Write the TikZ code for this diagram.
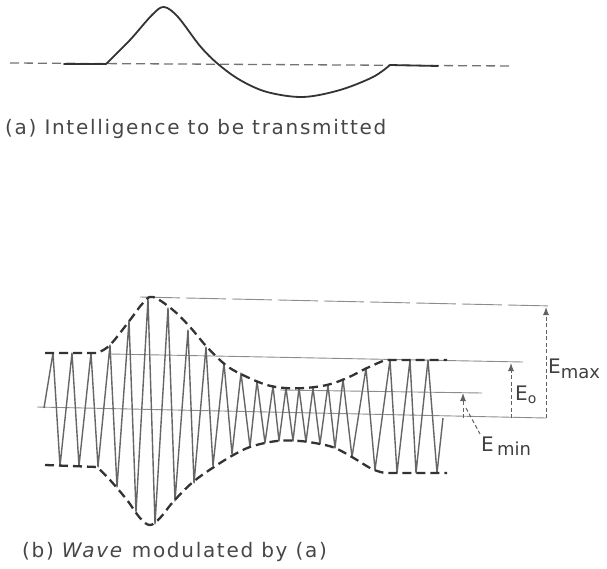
\documentclass[tikz,border=0pt]{standalone}
\usepackage{fontspec}
\setmainfont{DejaVu Sans}
\newfontfamily\capfont[LetterSpace=8.5]{DejaVu Sans}
\usetikzlibrary{arrows.meta}
\begin{document}
\begin{tikzpicture}[x=1pt,y=-1pt,
  sig/.style={line width=1.8pt, draw=black!80, line cap=round, line join=round},
  baseline dash/.style={line width=1.3pt, draw=black!55, dash pattern=on 9pt off 5pt},
  carrier/.style={line width=1.4pt, draw=black!60, line join=round},
  envelope/.style={line width=2.3pt, draw=black!80, dash pattern=on 9pt off 5pt},
  refline/.style={line width=0.9pt, draw=black!45},
  dimline/.style={line width=1pt, draw=black!62, dash pattern=on 4pt off 2.5pt},
  dimarrow/.style={dimline, -{Latex[length=8pt,width=6pt]}},
  lbl/.style={text=black!75, font=\fontsize{20}{22}\selectfont, inner sep=0pt},
  sublbl/.style={font=\fontsize{18}{20}\selectfont},
  caption/.style={text=black!72, font=\capfont\fontsize{20}{22}\selectfont, inner sep=0pt, anchor=base west}]
\useasboundingbox (0,0) rectangle (607,569);

% ---------- (a) ----------
\draw[baseline dash] (10,63) -- (512,66);
\draw[sig] (64,64) -- plot[smooth, tension=0.55] coordinates {(106,64) (130,40) (152,15) (164,7) (178,17) (200,46) (218,64) (240,80) (267,92) (303,97) (340,90) (373,77) (390,65)} -- (438,66);
\node[caption] (capa) at (5,135) {(a) Intelligence to be transmitted};

% ---------- (b) ----------
% reference lines
\draw[refline] (37,407) -- (546,418);
\draw[refline, dash pattern=on 40pt off 6pt] (140,297) -- (553,306);
\draw[refline] (110,354) -- (523,362);
\draw[refline] (280,390) -- (482,393);

% carrier
\draw[carrier] (44,408) -- (53,353) -- (60,466) -- (72,353) -- (79,466) -- (91,353) -- (98,467)
  -- (110,345) -- (117,487) -- (129,321) -- (136,512) -- (148,299) -- (155,524)
  -- (168,308) -- (175,501) -- (188,330) -- (194,483) -- (206,347) -- (213,466)
  -- (224,363) -- (232,454) -- (241,373) -- (250,447) -- (257,381) -- (265,443)
  -- (273,386) -- (279,441) -- (286,388) -- (293,441) -- (299,388) -- (306,442)
  -- (313,388) -- (320,444) -- (328,385) -- (335,448) -- (343,379) -- (352,457)
  -- (366,368) -- (375,470) -- (390,360) -- (397,473) -- (410,360) -- (416,473)
  -- (428,360) -- (437,473) -- (443,418);

% envelope
\draw[envelope] (45,353) -- (97,353) -- plot[smooth, tension=0.6] coordinates {(97,353) (110,345) (130,320) (143,303) (153,297) (173,310) (190,327) (207,347) (227,366) (247,377) (267,385) (285,388) (305,388) (327,385) (347,378) (367,368) (385,360)} -- (447,360);
\draw[envelope] (45,465) -- (97,467) -- plot[smooth, tension=0.6] coordinates {(97,467) (110,480) (127,500) (140,518) (150,525) (160,518) (173,502) (193,482) (217,465) (237,453) (253,446) (277,441) (300,441) (320,444) (335,448) (352,457) (372,469) (385,473)} -- (447,473);

% dimension arrows
\coordinate (maxb) at (546,418); \coordinate (maxt) at (546,307);
\coordinate (ob) at (511,418);   \coordinate (ot) at (511,363);
\coordinate (minb) at (463,418); \coordinate (mint) at (463,393);
\coordinate (lead1) at (466,408); \coordinate (lead2) at (480,434);
\draw[dimarrow] (maxb) -- (maxt);
\draw[dimarrow] (ob) -- (ot);
\draw[dimarrow] (minb) -- (mint);
\draw[dimline] (lead1) -- (lead2);

\node[lbl, anchor=base west] (emax) at (548,373) {E\raisebox{-5pt}{\fontsize{18}{20}\selectfont max}};
\node[lbl, anchor=base west] (eo) at (515,400) {E\raisebox{-3pt}{\fontsize{14}{14}\selectfont o}};
\node[lbl, anchor=base west] (emin) at (481,451) {E\,\raisebox{-4pt}{\fontsize{18}{20}\selectfont min}};

\node[caption] (capb) at (22,557) {(b) \textit{Wave} modulated by (a)};
\end{tikzpicture}
\end{document}
